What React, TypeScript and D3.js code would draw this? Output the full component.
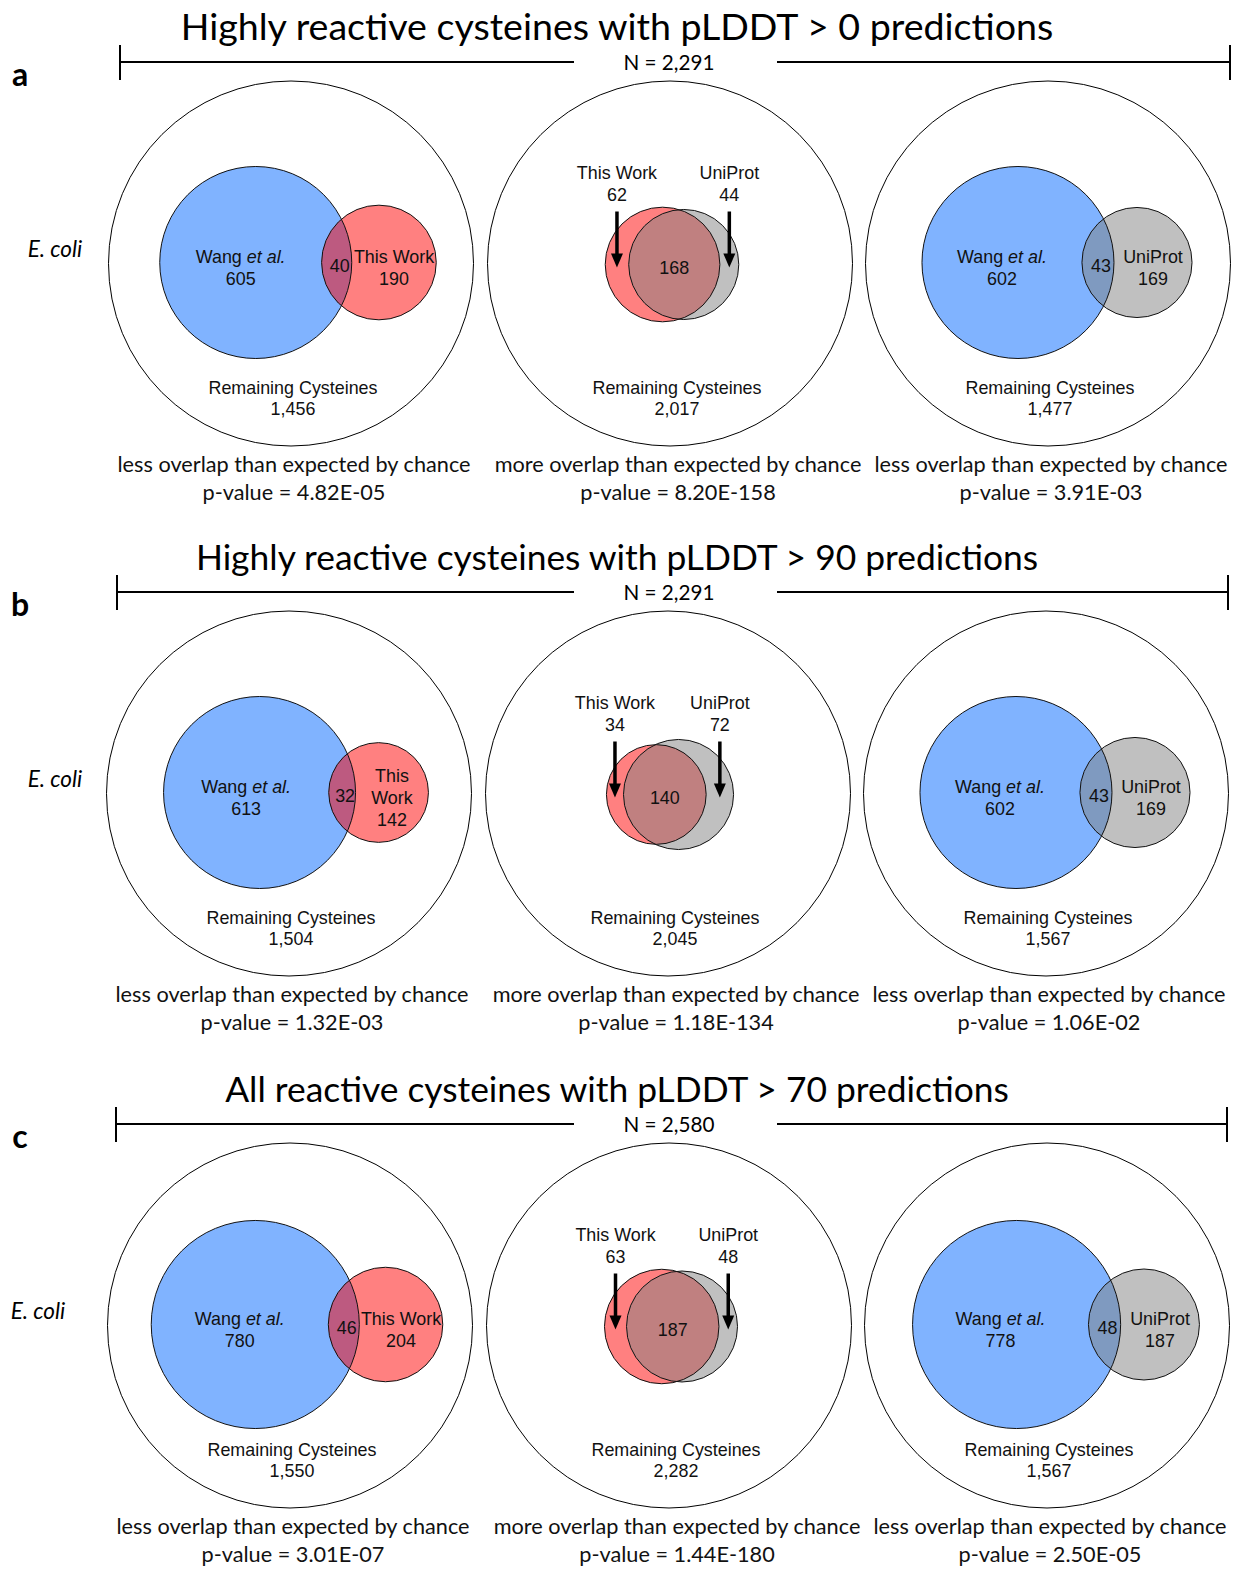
import React from 'react';
import * as d3 from 'd3';

// panel data
const panelLetters = ['a', 'b', 'c'];
const panelTitles = [
  'Highly reactive cysteines with pLDDT > 0 predictions',
  'Highly reactive cysteines with pLDDT > 90 predictions',
  'All reactive cysteines with pLDDT > 70 predictions',
];
const totalCysteines = [2291, 2291, 2580];

// Wang et al. vs This Work
const wangOnlyVsThis = [605, 613, 780];
const wangThisShared = [40, 32, 46];
const thisOnlyVsWang = [190, 142, 204];
// This Work vs UniProt
const thisOnlyVsUni = [62, 34, 63];
const thisUniShared = [168, 140, 187];
const uniOnlyVsThis = [44, 72, 48];
// Wang et al. vs UniProt
const wangOnlyVsUni = [602, 602, 778];
const wangUniShared = [43, 43, 48];
const uniOnlyVsWang = [169, 169, 187];

const remainingCysteines = [
  [1456, 2017, 1477],
  [1504, 2045, 1567],
  [1550, 2282, 1567],
];
const overlapVerdicts = [
  'less overlap than expected by chance',
  'more overlap than expected by chance',
  'less overlap than expected by chance',
];
const pValues = [
  ['4.82E-05', '8.20E-158', '3.91E-03'],
  ['1.32E-03', '1.18E-134', '1.06E-02'],
  ['3.01E-07', '1.44E-180', '2.50E-05'],
];

// layout
const W = 1237;
const H = 1572;
const panelTop = [0, 530, 1062];
const panelShift = [1, -1, 0];
const colX = [290, 669, 1047];
const outerR = 182.5;
const bracketLeft = [120, 117, 116];
const bracketRight = [1230, 1228, 1227];
const eColiX = [55, 55, 38];
const radiusK = [3.78, 3.78, 3.62];
const titleSize = [37.6, 35.4, 35.4];
const textOffset = [2, 7, 2];
const vennOffset = [7, 2, 9];

const sansC = "Lato, 'Open Sans', sans-serif";
const sansA = "'Liberation Sans', Arial, sans-serif";
const labelSize = 17.9;

const BLUE = '#80B3FF';
const RED = '#FF8080';
const GRAY = '#C0C0C0';
const BLUE_RED = '#BD5A80';
const BLUE_GRAY = '#7F9AC0';
const RED_GRAY = '#C08080';

const fmt = d3.format(',');

function lensArea(d: number, r1: number, r2: number) {
  if (d >= r1 + r2) return 0;
  if (d <= Math.abs(r1 - r2)) return Math.PI * Math.min(r1, r2) ** 2;
  const a1 = Math.acos((d * d + r1 * r1 - r2 * r2) / (2 * d * r1));
  const a2 = Math.acos((d * d + r2 * r2 - r1 * r1) / (2 * d * r2));
  const t = Math.sqrt((-d + r1 + r2) * (d + r1 - r2) * (d - r1 + r2) * (d + r1 + r2));
  return r1 * r1 * a1 + r2 * r2 * a2 - 0.5 * t;
}

function solveDistance(r1: number, r2: number, target: number) {
  let lo = Math.abs(r1 - r2);
  let hi = r1 + r2;
  for (let i = 0; i < 60; i++) {
    const mid = (lo + hi) / 2;
    if (lensArea(mid, r1, r2) > target) lo = mid;
    else hi = mid;
  }
  return (lo + hi) / 2;
}

function layoutPair(cx: number, k: number, aOnly: number, shared: number, bOnly: number) {
  const r = d3.scaleSqrt().domain([0, 1]).range([0, k]);
  const rA = r(aOnly + shared);
  const rB = r(bOnly + shared);
  const d = solveDistance(rA, rB, Math.PI * k * k * shared);
  const span = rA + d + rB;
  const ax = cx - span / 2 + rA;
  const bx = ax + d;
  return { rA, rB, ax, bx };
}

type VennProps = {
  id: string;
  cx: number;
  cy: number;
  k: number;
  aOnly: number;
  shared: number;
  bOnly: number;
  aName: React.ReactNode;
  bName: string;
  aColor: string;
  bColor: string;
  mixColor: string;
};

const SideVenn = (p: VennProps) => {
  const { rA, rB, ax, bx } = layoutPair(p.cx, p.k, p.aOnly, p.shared, p.bOnly);
  const aLabelX = (ax - rA + bx - rB) / 2;
  const sharedX = (bx - rB + ax + rA) / 2 + 3;
  const bLabelX = (ax + rA + bx + rB) / 2;
  const bRoom = bx + rB - (ax + rA);
  const bLines = bRoom < 80 ? p.bName.split(' ') : [p.bName];
  const lines = (n: number) => (i: number) => p.cy + 11 + (i - (n - 1) / 2) * 22;
  const bY = lines(bLines.length + 1);
  const aY = lines(2);
  return (
    <g>
      <clipPath id={p.id}>
        <circle cx={ax} cy={p.cy} r={rA} />
      </clipPath>
      <circle cx={ax} cy={p.cy} r={rA} fill={p.aColor} />
      <circle cx={bx} cy={p.cy} r={rB} fill={p.bColor} />
      <circle cx={bx} cy={p.cy} r={rB} fill={p.mixColor} clipPath={`url(#${p.id})`} />
      <circle cx={ax} cy={p.cy} r={rA} fill="none" stroke="#111" strokeWidth={1} />
      <circle cx={bx} cy={p.cy} r={rB} fill="none" stroke="#111" strokeWidth={1} />
      <g fontFamily={sansA} fontSize={labelSize} textAnchor="middle" fill="#111">
        <text x={aLabelX} y={aY(0)}>{p.aName}</text>
        <text x={aLabelX} y={aY(1)}>{p.aOnly}</text>
        <text x={sharedX} y={p.cy + 9}>{p.shared}</text>
        {bLines.map((t, i) => (
          <text key={i} x={bLabelX} y={bY(i)}>{t}</text>
        ))}
        <text x={bLabelX} y={bY(bLines.length)}>{p.bOnly}</text>
      </g>
    </g>
  );
};

const Arrow = ({ x, y1, y2 }: { x: number; y1: number; y2: number }) => {
  const head = 14;
  const p = d3.path();
  p.moveTo(x - 6, y2 - head);
  p.lineTo(x + 6, y2 - head);
  p.lineTo(x, y2);
  p.closePath();
  return (
    <g>
      <line x1={x} x2={x} y1={y1} y2={y2 - head + 1} stroke="#000" strokeWidth={3.5} />
      <path d={p.toString()} fill="#000" />
    </g>
  );
};

const MiddleVenn = (p: VennProps) => {
  const { rA, rB, ax, bx } = layoutPair(p.cx, p.k, p.aOnly, p.shared, p.bOnly);
  const aX = (ax - rA + bx - rB) / 2;
  const bX = (ax + rA + bx + rB) / 2;
  const sharedX = (bx - rB + ax + rA) / 2;
  return (
    <g>
      <clipPath id={p.id}>
        <circle cx={ax} cy={p.cy} r={rA} />
      </clipPath>
      <circle cx={ax} cy={p.cy} r={rA} fill={p.aColor} />
      <circle cx={bx} cy={p.cy} r={rB} fill={p.bColor} />
      <circle cx={bx} cy={p.cy} r={rB} fill={p.mixColor} clipPath={`url(#${p.id})`} />
      <circle cx={ax} cy={p.cy} r={rA} fill="none" stroke="#111" strokeWidth={1} />
      <circle cx={bx} cy={p.cy} r={rB} fill="none" stroke="#111" strokeWidth={1} />
      <Arrow x={aX} y1={p.cy - 53} y2={p.cy + 3} />
      <Arrow x={bX} y1={p.cy - 53} y2={p.cy + 3} />
      <g fontFamily={sansA} fontSize={labelSize} textAnchor="middle" fill="#111">
        <text x={aX} y={p.cy - 86}>{p.aName}</text>
        <text x={aX} y={p.cy - 64}>{p.aOnly}</text>
        <text x={bX} y={p.cy - 86}>{p.bName}</text>
        <text x={bX} y={p.cy - 64}>{p.bOnly}</text>
        <text x={sharedX} y={p.cy + 9}>{p.shared}</text>
      </g>
    </g>
  );
};

const wangName = (
  <>
    Wang <tspan fontStyle="italic">et al.</tspan>
  </>
);

const Panel = ({ i }: { i: number }) => {
  const top = panelTop[i];
  const sx = panelShift[i];
  const cy = top + 263.5;
  const bracketY = top + 62;
  const nX = 669;
  const cols = colX.map((x) => x + sx);
  const k = radiusK[i];
  return (
    <g>
      <text x={20} y={top + 86} fontFamily={sansC} fontWeight="bold" fontSize={32} textAnchor="middle">
        {panelLetters[i]}
      </text>
      <text x={617} y={top + 40} fontFamily={sansC} fontSize={titleSize[i]} textAnchor="middle">
        {panelTitles[i]}
      </text>
      <g stroke="#000" strokeWidth={2}>
        <line x1={bracketLeft[i]} x2={nX - 95} y1={bracketY} y2={bracketY} />
        <line x1={nX + 108} x2={bracketRight[i]} y1={bracketY} y2={bracketY} />
        <line x1={bracketLeft[i]} x2={bracketLeft[i]} y1={bracketY - 17} y2={bracketY + 18} />
        <line x1={bracketRight[i]} x2={bracketRight[i]} y1={bracketY - 17} y2={bracketY + 18} />
      </g>
      <text x={nX} y={bracketY + 8} fontFamily={sansC} fontSize={20.7} textAnchor="middle">
        N = {fmt(totalCysteines[i])}
      </text>
      <text x={eColiX[i]} y={cy - 7} fontFamily={sansC} fontStyle="italic" fontSize={22.5} textAnchor="middle">
        E. coli
      </text>
      {cols.map((x, j) => (
        <circle key={j} cx={x} cy={cy} r={outerR} fill="none" stroke="#000" strokeWidth={1} />
      ))}
      <SideVenn
        id={`clip-${i}-0`}
        cx={cols[0] + vennOffset[0]}
        cy={cy - 1}
        k={k}
        aOnly={wangOnlyVsThis[i]}
        shared={wangThisShared[i]}
        bOnly={thisOnlyVsWang[i]}
        aName={wangName}
        bName="This Work"
        aColor={BLUE}
        bColor={RED}
        mixColor={BLUE_RED}
      />
      <MiddleVenn
        id={`clip-${i}-1`}
        cx={cols[1] + vennOffset[1]}
        cy={cy + 1}
        k={k}
        aOnly={thisOnlyVsUni[i]}
        shared={thisUniShared[i]}
        bOnly={uniOnlyVsThis[i]}
        aName="This Work"
        bName="UniProt"
        aColor={RED}
        bColor={GRAY}
        mixColor={RED_GRAY}
      />
      <SideVenn
        id={`clip-${i}-2`}
        cx={cols[2] + vennOffset[2]}
        cy={cy - 1}
        k={k}
        aOnly={wangOnlyVsUni[i]}
        shared={wangUniShared[i]}
        bOnly={uniOnlyVsWang[i]}
        aName={wangName}
        bName="UniProt"
        aColor={BLUE}
        bColor={GRAY}
        mixColor={BLUE_GRAY}
      />
      {cols.map((x, j) => (
        <g key={j} textAnchor="middle" fill="#111">
          <text x={x + textOffset[j]} y={cy + 130} fontFamily={sansA} fontSize={labelSize}>
            Remaining Cysteines
          </text>
          <text x={x + textOffset[j]} y={cy + 151} fontFamily={sansA} fontSize={labelSize}>
            {fmt(remainingCysteines[i][j])}
          </text>
          <text x={x + textOffset[j] + 1} y={cy + 208} fontFamily={sansC} fontSize={21.7}>
            {overlapVerdicts[j]}
          </text>
          <text x={x + textOffset[j] + 1} y={cy + 236} fontFamily={sansC} fontSize={21.7}>
            p-value = {pValues[i][j]}
          </text>
        </g>
      ))}
    </g>
  );
};

export default function App() {
  return (
    <svg
      width={W}
      height={H}
      viewBox={`0 0 ${W} ${H}`}
      style={{ position: 'absolute', left: 0, top: 0, background: '#fff' }}
    >
      <rect width={W} height={H} fill="#fff" />
      {panelTop.map((_, i) => (
        <Panel key={i} i={i} />
      ))}
    </svg>
  );
}
